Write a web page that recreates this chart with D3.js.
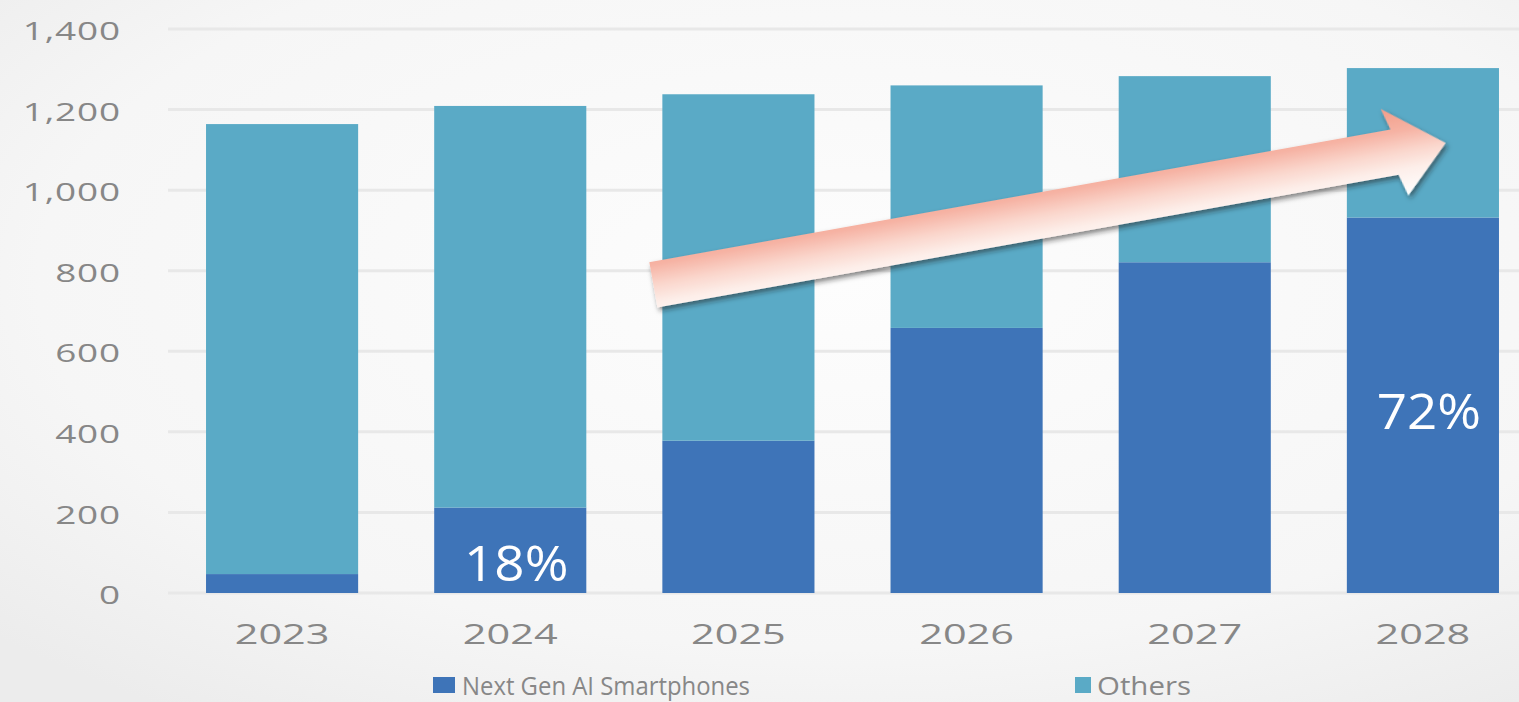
<!DOCTYPE html>
<html>
<head>
<meta charset="utf-8">
<script src="https://cdn.jsdelivr.net/npm/d3@7"></script>
<style>
  html, body { margin: 0; padding: 0; background: #f7f7f7; overflow: hidden; }
  svg { display: block; }
  text { font-family: "Open Sans", "Noto Sans", sans-serif; }
</style>
</head>
<body>
<svg id="chart" width="1519" height="702"></svg>
<script>
// Smartphone shipments (millions): Next Gen AI smartphones vs. others
const years = ["2023", "2024", "2025", "2026", "2027", "2028"];
const nextGen = [47, 212, 378, 658, 821, 932];
const others = [1117, 997, 860, 602, 462, 371];
const yTicks = [0, 200, 400, 600, 800, 1000, 1200, 1400];
const shareYears = ["2024", "2028"];
const shareLabelDy = [11, 4];
const seriesNames = ["Next Gen AI Smartphones", "Others"];

const W = 1519, H = 702;
const colors = { nextGen: "#3e74b8", others: "#5aaac6" };
const grey = "#878787";

const svg = d3.select("#chart");
const defs = svg.append("defs");

// soft page background
const bg = defs.append("radialGradient").attr("id", "bgGrad")
  .attr("cx", "55%").attr("cy", "40%").attr("r", "75%");
bg.append("stop").attr("offset", "0%").attr("stop-color", "#fdfdfd");
bg.append("stop").attr("offset", "70%").attr("stop-color", "#f6f6f6");
bg.append("stop").attr("offset", "100%").attr("stop-color", "#ececec");
svg.append("rect").attr("width", W).attr("height", H).attr("fill", "url(#bgGrad)");

const table = years.map((yr, i) => ({ year: yr, nextGen: nextGen[i], others: others[i] }));
const stacked = d3.stack().keys(["nextGen", "others"])(table);

const x = d3.scaleBand().domain(years).range([168, 1537])
  .paddingInner(1 / 3).paddingOuter(1 / 6);
const y = d3.scaleLinear().domain([0, 1400]).range([593, 29]);

// gridlines
svg.append("g").selectAll("line").data(yTicks).join("line")
  .attr("x1", 168).attr("x2", W)
  .attr("y1", d => y(d)).attr("y2", d => y(d))
  .attr("stroke", "#e8e8e8").attr("stroke-width", 3);

// y tick labels (wide, stretched type)
const fmt = d3.format(",");
svg.append("g").selectAll("g").data(yTicks).join("g")
  .attr("transform", d => `translate(121,${y(d) + 1}) scale(1.42,1)`)
  .append("text")
  .attr("text-anchor", "end").attr("dominant-baseline", "central")
  .attr("font-size", 26).attr("fill", grey)
  .attr("letter-spacing", 0.6)
  .text(d => fmt(d));

// stacked bars
svg.append("g").selectAll("g").data(stacked).join("g")
  .attr("fill", d => colors[d.key])
  .selectAll("rect").data(d => d).join("rect")
  .attr("x", d => x(d.data.year))
  .attr("width", x.bandwidth())
  .attr("y", d => y(d[1]))
  .attr("height", d => y(d[0]) - y(d[1]));

// year labels
svg.append("g").selectAll("g").data(years).join("g")
  .attr("transform", d => `translate(${x(d) + x.bandwidth() / 2},633) scale(1.48,1)`)
  .append("text")
  .attr("text-anchor", "middle").attr("dominant-baseline", "central")
  .attr("font-size", 28).attr("fill", grey)
  .text(d => d);

// share-of-total labels on the AI smartphone segment
svg.append("g").selectAll("g")
  .data(table.filter(d => shareYears.includes(d.year)))
  .join("g")
  .attr("transform", (d, i) =>
    `translate(${x(d.year) + x.bandwidth() / 2 + 6},${(y(0) + y(d.nextGen)) / 2 + shareLabelDy[i]}) scale(1.06,1)`)
  .append("text")
  .attr("text-anchor", "middle").attr("dominant-baseline", "central")
  .attr("font-size", 50).attr("fill", "#ffffff")
  .text(d => Math.round(100 * d.nextGen / (d.nextGen + d.others)) + "%");

// growth arrow
const shadow = defs.append("filter").attr("id", "arrowShadow")
  .attr("x", "-10%").attr("y", "-40%").attr("width", "120%").attr("height", "180%");
shadow.append("feDropShadow").attr("dx", 1.5).attr("dy", 3.5)
  .attr("stdDeviation", 2.5).attr("flood-color", "#1a1a1a").attr("flood-opacity", 0.55);

const ag = defs.append("linearGradient").attr("id", "arrowGrad")
  .attr("gradientUnits", "userSpaceOnUse").attr("x1", 0).attr("y1", -45).attr("x2", 0).attr("y2", 45);
[["0%", "#f29d89"], ["28%", "#f6b3a4"], ["50%", "#fad6cc"], ["70%", "#fdeee9"], ["100%", "#ffffff"]]
  .forEach(([o, c]) => ag.append("stop").attr("offset", o).attr("stop-color", c));

const tail = [x("2025") - 9, y(765)];
const tip = [x("2028") + x.bandwidth() * 0.65, y(1117)];
const len = Math.hypot(tip[0] - tail[0], tip[1] - tail[1]);
const ang = Math.atan2(tip[1] - tail[1], tip[0] - tail[0]) * 180 / Math.PI;
const sw = 23, hw = 45, hl = 52;
const arrowPts = [[0, -sw], [len - hl, -sw], [len - hl - 6, -hw], [len, 0], [len - hl + 6, hw], [len - hl, sw], [0, sw]];
svg.append("g")
  .attr("transform", `translate(${tail[0]},${tail[1]}) rotate(${ang})`)
  .append("path")
  .attr("d", d3.line()(arrowPts) + "Z")
  .attr("fill", "url(#arrowGrad)")
  .attr("filter", "url(#arrowShadow)");

// legend
const legend = [
  { name: seriesNames[0], color: colors.nextGen, sx: 433, sw: 22, tx: 462, tl: 288 },
  { name: seriesNames[1], color: colors.others, sx: 1075, sw: 16, tx: 1097, tl: 94 }
];
const lg = svg.append("g").selectAll("g").data(legend).join("g");
lg.append("rect").attr("x", d => d.sx).attr("y", 677).attr("width", d => d.sw).attr("height", 16)
  .attr("fill", d => d.color);
lg.append("text").attr("x", d => d.tx).attr("y", 685)
  .attr("dominant-baseline", "central").attr("font-size", 26).attr("fill", grey)
  .attr("textLength", d => d.tl).attr("lengthAdjust", "spacingAndGlyphs")
  .text(d => d.name);
</script>
</body>
</html>
